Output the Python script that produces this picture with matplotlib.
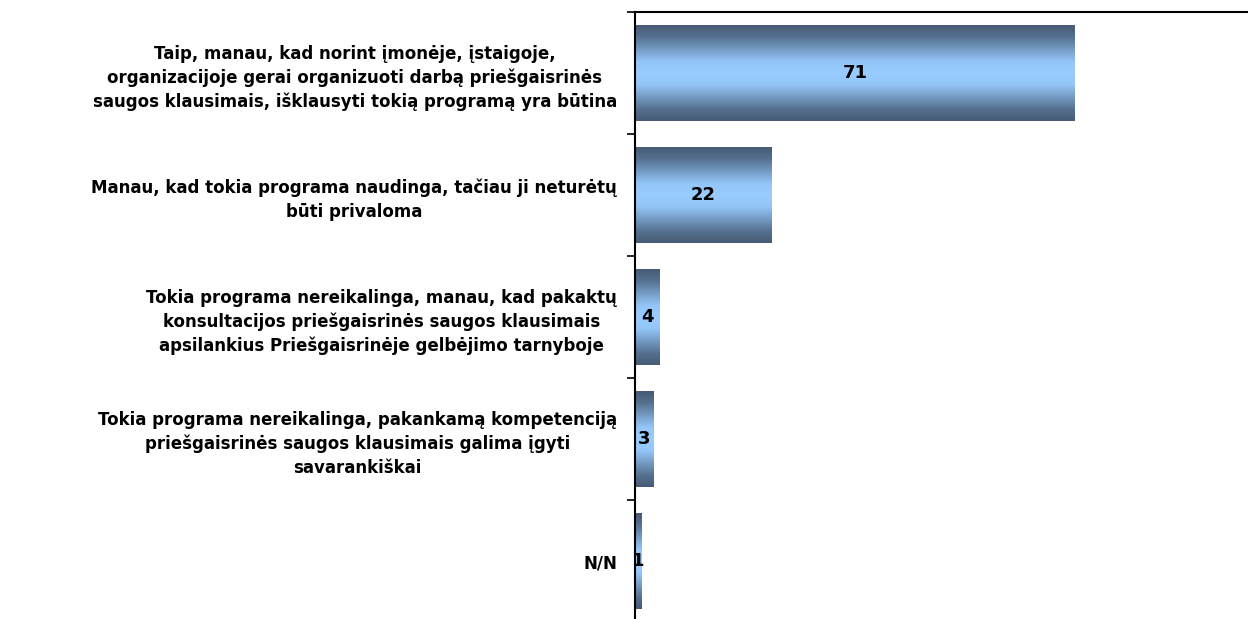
import numpy as np
import matplotlib.pyplot as plt
from matplotlib.colors import LinearSegmentedColormap
from matplotlib.patches import Rectangle

categories = [
    "Taip, manau, kad norint įmonėje, įstaigoje,\norganizacijoje gerai organizuoti darbą priešgaisrinės\nsaugos klausimais, išklausyti tokią programą yra būtina",
    "Manau, kad tokia programa naudinga, tačiau ji neturėtų\nbūti privaloma",
    "Tokia programa nereikalinga, manau, kad pakaktų\nkonsultacijos priešgaisrinės saugos klausimais\napsilankius Priešgaisrinėje gelbėjimo tarnyboje",
    "Tokia programa nereikalinga, pakankamą kompetenciją\npriešgaisrinės saugos klausimais galima įgyti\nsavarankiškai",
    "N/N",
]
values = [71, 22, 4, 3, 1]

plt.rcParams['font.family'] = ['DejaVu Sans']
fig = plt.figure(figsize=(12.48, 6.19), dpi=100)
ax = fig.add_axes([635 / 1248, 1 - 622 / 619, 1 - 635 / 1248, 610 / 619])

cmap = LinearSegmentedColormap.from_list('bar', [
    (0.0, '#465a74'), (0.12, '#55708f'), (0.38, '#94c6f8'), (0.5, '#99ccff'),
    (0.62, '#94c6f8'), (0.88, '#55708f'), (1.0, '#465a74')])
grad = np.linspace(0, 1, 256).reshape(-1, 1)

y = np.arange(len(values))
h = 0.78
for yi, v in zip(y, values):
    im = ax.imshow(grad, aspect='auto', cmap=cmap, extent=[0, v, yi + h / 2, yi - h / 2], zorder=2)
    rect = Rectangle((0, yi - h / 2), v, h, transform=ax.transData, facecolor='none', edgecolor='none')
    ax.add_patch(rect)
    im.set_clip_path(rect)
    ax.text(v / 2, yi, str(v), ha='center', va='center', fontsize=13, fontweight='bold', zorder=3)

ax.set_xlim(0, 99)
ax.set_ylim(len(values) - 0.5, -0.5)
ax.set_yticks(y)
ax.set_yticklabels(categories, fontsize=12, fontweight='bold', multialignment='center', linespacing=1.4)
ax.tick_params(axis='y', which='major', length=0, pad=13)
ax.set_yticks(np.arange(-0.5, len(values), 1), minor=True)
ax.tick_params(axis='y', which='minor', length=6, width=1.2)
ax.set_xticks([])
ax.spines['right'].set_visible(False)
ax.spines['bottom'].set_visible(False)
ax.spines['left'].set_linewidth(1.5)
ax.spines['top'].set_linewidth(1.5)

fig.savefig('out.png', dpi=100)
